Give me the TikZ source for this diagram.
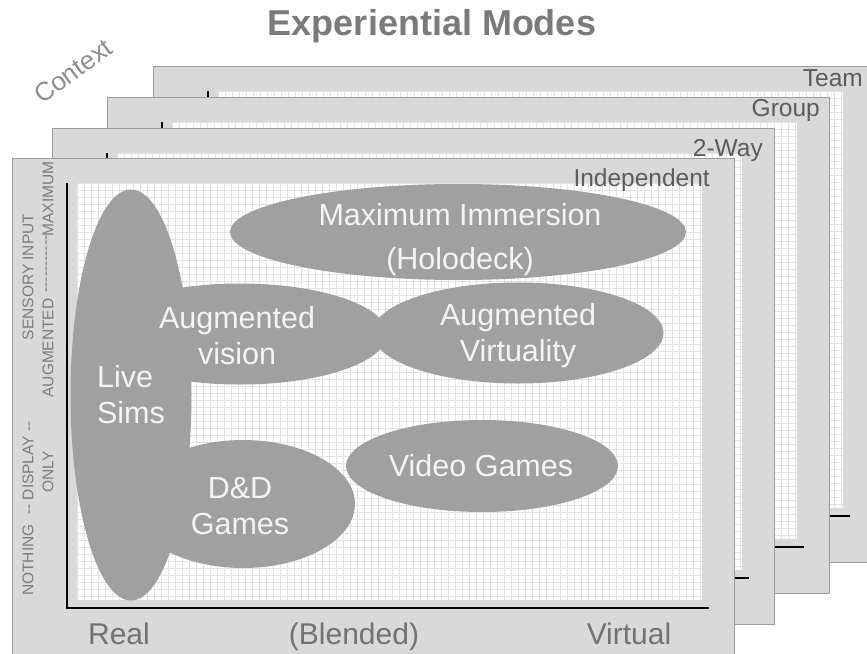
\documentclass[tikz,border=0pt]{standalone}
\usepackage{fontspec}
\setmainfont{Liberation Sans}
\usetikzlibrary{shapes.geometric}
\definecolor{panelfill}{HTML}{D9D9D9}
\definecolor{panelline}{HTML}{9C9C9C}
\definecolor{gridline}{HTML}{E3E3E3}
\definecolor{ellfill}{HTML}{A0A0A0}
\definecolor{elltext}{HTML}{F4F4F4}
\definecolor{titlegray}{HTML}{7A7A7A}
\definecolor{labgray}{HTML}{5C5C5C}
\definecolor{axgray}{HTML}{727272}
\definecolor{sidegray}{HTML}{7C7C7C}
\newcommand\drawpanel[2]{%
  \begin{scope}[shift={(#1,#2)}]
    \fill[panelfill,draw=panelline,line width=1pt] (0,0) rectangle (722,496);
    \fill[white] (65,25) rectangle (690,442);
    \foreach \gx in {0,7,...,623} {\draw[gridline,line width=0.8pt] (65+\gx,25) -- (65+\gx,442);}
    \foreach \gy in {0,7,...,413} {\draw[gridline,line width=0.8pt] (65,25+\gy) -- (690,25+\gy);}
    \draw[axisline] (55,25) -- (55,450) -- (697,450);
  \end{scope}}
\tikzset{
  axisline/.style={black,line width=2.6pt,line join=miter},
  modeell/.style={ellipse,fill=ellfill,draw=none,inner sep=0pt},
  modetext/.style={text=elltext,align=center,font=\fontsize{30.5}{36}\selectfont},
  panellabel/.style={text=labgray,anchor=base east,inner sep=0pt,font=\fontsize{24.5}{28}\selectfont},
  axislabel/.style={text=axgray,inner sep=0pt,anchor=base,font=\fontsize{30}{34}\selectfont},
  sidelabel/.style={text=sidegray,inner sep=0pt,rotate=90,font=\fontsize{15.5}{17}\selectfont},
}
\begin{document}
\begin{tikzpicture}[x=1pt,y=-1pt]
\useasboundingbox[fill=white] (0,0) rectangle (867,653);
% panels, back to front
\drawpanel{153}{66}
\drawpanel{107}{97}
\drawpanel{52}{128}
\drawpanel{12}{158}
% title and context
\node[text=titlegray,font=\bfseries\fontsize{36}{40}\selectfont,anchor=base,inner sep=0pt] (title) at (432,35) {Experiential Modes};
\node[text=titlegray!85,font=\fontsize{26}{28}\selectfont,rotate=36,inner sep=0pt] (context) at (73,71) {Context};
% panel labels
\node[panellabel] (team) at (863,86) {Team};
\node[panellabel] (group) at (820,116) {Group};
\node[panellabel] (twoway) at (763,156) {2-Way};
\node[panellabel] (indep) at (710,186) {Independent};
% ellipses
\node[modeell,minimum width=121,minimum height=411] (liveE) at (131,395) {};
\node[modeell,minimum width=456,minimum height=96] (maxE) at (458,232) {};
\node[modeell,minimum width=294,minimum height=101] (augvE) at (240,334) {};
\node[modeell,minimum width=291,minimum height=101] (augvirtE) at (518,333) {};
\node[modeell,minimum width=272,minimum height=92] (videoE) at (482,466) {};
\node[modeell,minimum width=224,minimum height=128] (ddE) at (243,504) {};
% ellipse texts
\node[modetext,align=left] (liveT) at (131,395) {Live\\Sims};
\node[modetext,font=\fontsize{30.5}{44}\selectfont] (maxT) at (460,240) {Maximum Immersion\\(Holodeck)};
\node[modetext] (augvT) at (237,336) {Augmented\\vision};
\node[modetext] (augvirtT) at (518,336) {Augmented\\Virtuality};
\node[modetext] (videoT) at (481,466) {Video Games};
\node[modetext] (ddT) at (240,506) {D\&D\\Games};
% bottom axis labels
\node[axislabel] (real) at (119,644) {Real};
\node[axislabel] (blended) at (354,644) {(Blended)};
\node[axislabel] (virtual) at (629,644) {Virtual};
% side labels
\node[sidelabel] (nothing) at (28,560) {NOTHING};
\node[sidelabel] (display) at (28,468) {{-}{-} DISPLAY {-}{-}};
\node[sidelabel] (sensory) at (28,277) {SENSORY INPUT};
\node[sidelabel] (only) at (48,472) {ONLY};
\node[sidelabel] (augm) at (48,348) {AUGMENTED};
\node[sidelabel] (dashes) at (48,264) {{-}{-}{-}{-}{-}{-}{-}{-}{-}{-}{-}};
\node[sidelabel] (maxim) at (48,199) {MAXIMUM};
\end{tikzpicture}
\end{document}
